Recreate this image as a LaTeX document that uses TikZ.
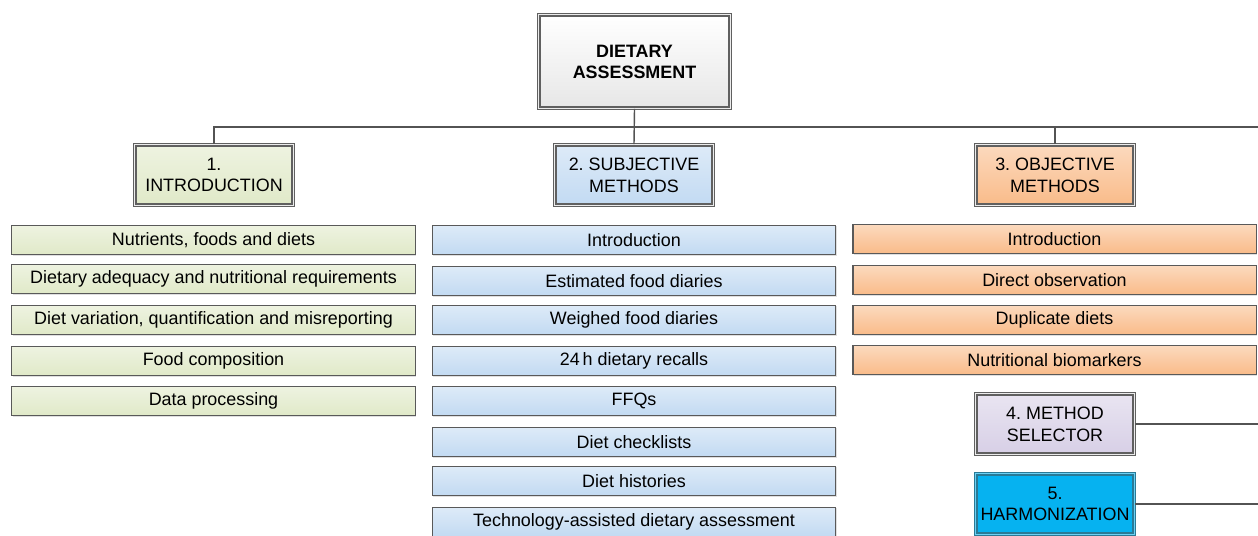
\documentclass[tikz,border=0pt]{standalone}
\usepackage{fontspec}
\setmainfont{Liberation Sans}
\usetikzlibrary{shadows}

\definecolor{introgreen}{HTML}{E0E9C8}
\definecolor{subjblue}{HTML}{C2DAF2}
\definecolor{objorange}{HTML}{F9BB89}
\definecolor{selpurple}{HTML}{D7CFE6}
\definecolor{harmcyan}{HTML}{06B2F0}
\definecolor{harmedge}{HTML}{2A7A96}
\definecolor{topgray}{HTML}{F2F2F2}

\tikzset{
	txt/.style={font=\fontsize{10.2}{12.4}\selectfont\frenchspacing},
	head/.style={txt, draw=gray!75!black, double=gray!15, double distance=0.7pt, line width=0.7pt,
		minimum width=3.17cm, minimum height=1.21cm, align=center, inner sep=1pt,
		drop shadow={shadow xshift=0.6pt, shadow yshift=-0.6pt, opacity=0.25}},
	item/.style={txt, draw=gray!70!black, line width=0.8pt, minimum width=8.07cm, minimum height=0.59cm, inner sep=1pt,
		drop shadow={shadow xshift=0.6pt, shadow yshift=-0.6pt, opacity=0.25}},
	itemfill/.style={top color=#1!55!white, bottom color=#1},
	link/.style={draw=gray!65!black, line width=0.8pt},
}

\begin{document}
\begin{tikzpicture}[x=0.02cm, y=-0.02cm]
	\useasboundingbox (0,0) rectangle (1258,536);
	
	%HEADINGS
	\node[head, top color=white, bottom color=topgray!90!gray, minimum width=3.83cm, minimum height=1.87cm, font=\fontsize{10.2}{12}\selectfont\bfseries] (diet) at (634.5,61.5) {DIETARY\\ASSESSMENT};
	\node[head, itemfill=introgreen] (intro) at (214,175) {1.\\INTRODUCTION};
	\node[head, itemfill=subjblue]   (subj)  at (634,175) {2. SUBJECTIVE\\METHODS};
	\node[head, itemfill=objorange]  (obj)   at (1055,175) {3. OBJECTIVE\\METHODS};
	\node[head, itemfill=selpurple]  (sel)   at (1055,424) {4. METHOD\\SELECTOR};
	\node[head, fill=harmcyan, draw=harmedge, double=harmcyan!60!white] (harm) at (1055,504) {5.\\HARMONIZATION};
	
	%free ends at the right edge
	\coordinate (busR) at (1258,127);
	\coordinate (selR) at (1258,424);
	\coordinate (harmR) at (1258,504);
	
	%LINKS
	\draw[link] (intro.north) |- (busR);
	\draw[link] (diet.south) -- (subj.north);
	\draw[link] (obj.north) -- (obj.north |- busR);
	\draw[link] (sel.east) -- (selR);
	\draw[link] (harm.east) -- (harmR);
	
	%ITEMS -- INTRODUCTION
	\foreach \t/\y [count=\i] in {{Nutrients, foods and diets}/240,{Dietary adequacy and nutritional requirements}/279,{Diet variation, quantification and misreporting}/320,{Food composition}/361,{Data processing}/401}
	\node[item, itemfill=introgreen] (introitem\i) at (213.5,\y) {\t};
	
	%ITEMS -- SUBJECTIVE
	\foreach \t/\y [count=\i] in {{Introduction}/240,{Estimated food diaries}/281,{Weighed food diaries}/320,{24\,h dietary recalls}/361,{FFQs}/401,{Diet checklists}/442,{Diet histories}/481,{Technology-assisted dietary assessment}/522}
	\node[item, itemfill=subjblue] (subjitem\i) at (634,\y) {\t};
	
	%ITEMS -- OBJECTIVE
	\foreach \t/\y [count=\i] in {{Introduction}/239,{Direct observation}/280,{Duplicate diets}/320,{Nutritional biomarkers}/360}
	\node[item, itemfill=objorange] (objitem\i) at (1054.5,\y) {\t};
	
\end{tikzpicture}
\end{document}
